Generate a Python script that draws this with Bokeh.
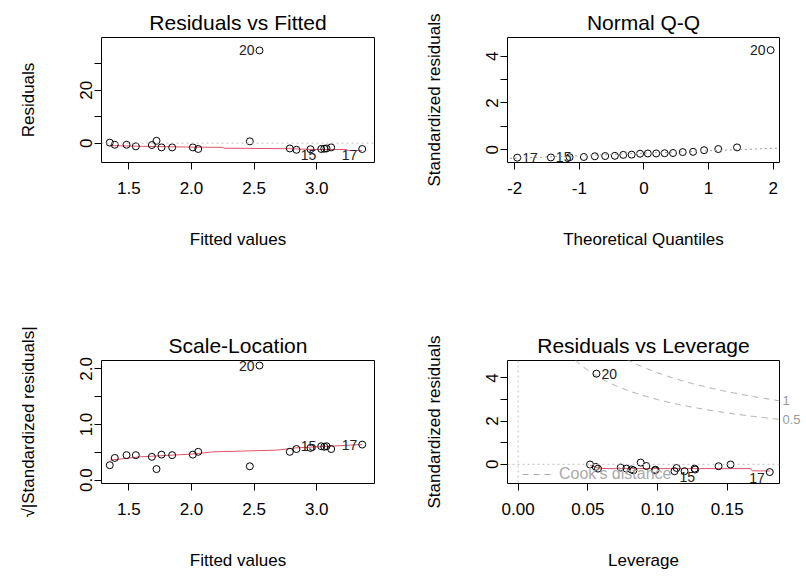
import numpy as np
from bokeh.plotting import figure
from bokeh.layouts import gridplot
from bokeh.models import (Range1d, FixedTicker, Span, Slope, Legend, LegendItem,
                          LinearAxis)
from bokeh.core.properties import value
from bokeh.embed import file_html
from bokeh.resources import INLINE

FONT = "Liberation Sans"
RED = "#DF536B"
GRAY = "#BEBEBE"
DASHGRAY = "#AAAAAA"

# ---------------- data ----------------
obs_id = ["", "", "", "", "", "", "", "", "", "", "", "20", "", "", "", "15", "", "", "", "17"]
fitted = [1.348, 1.388, 1.482, 1.556, 1.684, 1.721, 1.761, 1.846, 2.011, 2.054,
          2.466, 2.543, 2.785, 2.838, 2.950, 3.036, 3.060, 3.078, 3.115, 3.363]
residuals = [0.2, -0.6, -0.6, -1.2, -0.7, 0.9, -1.6, -1.6, -1.6, -2.2,
             0.7, 35.0, -2.0, -2.5, -2.3, -2.2, -2.1, -2.0, -1.6, -2.2]
sqrt_abs_std = [0.27, 0.40, 0.45, 0.45, 0.42, 0.20, 0.46, 0.45, 0.46, 0.51,
                0.25, 2.06, 0.51, 0.56, 0.58, 0.61, 0.60, 0.61, 0.56, 0.64]
resid_smooth_x = [1.35, 1.62, 2.02, 2.25, 2.26, 2.79, 2.97, 3.24, 3.25, 3.36]
resid_smooth_y = [-0.9, -1.2, -1.5, -1.6, -1.9, -2.1, -2.4, -2.4, -2.8, -2.8]
scale_smooth_x = [1.35, 1.59, 2.01, 2.18, 2.68, 2.83, 3.36]
scale_smooth_y = [0.36, 0.42, 0.47, 0.51, 0.54, 0.58, 0.64]

qq_id = ["17", "15", "", "", "", "", "", "", "", "", "", "", "", "", "", "", "", "", "", "20"]
theoretical_q = [-1.96, -1.44, -1.15, -0.93, -0.76, -0.60, -0.45, -0.32, -0.19, -0.06,
                 0.06, 0.19, 0.32, 0.45, 0.60, 0.76, 0.93, 1.15, 1.44, 1.96]
std_resid_sorted = [-0.34, -0.33, -0.32, -0.31, -0.28, -0.27, -0.26, -0.22, -0.21, -0.17,
                    -0.16, -0.16, -0.15, -0.14, -0.10, -0.09, -0.02, 0.03, 0.10, 4.26]
qq_line_intercept = -0.15
qq_line_slope = 0.105

lev_id = ["", "", "", "20", "", "", "", "", "", "", "", "", "15", "", "", "", "", "", "", "17"]
leverage = [0.0516, 0.0557, 0.0573, 0.0562, 0.0736, 0.0777, 0.0813, 0.0827, 0.0879, 0.0920,
            0.0982, 0.0985, 0.1122, 0.1137, 0.1194, 0.1266, 0.1270, 0.1438, 0.1524, 0.1805]
std_resid_lev = [-0.01, -0.12, -0.20, 4.20, -0.15, -0.20, -0.24, -0.28, 0.08, -0.08,
                 -0.28, -0.25, -0.32, -0.17, -0.32, -0.20, -0.245, -0.09, -0.01, -0.36]
lev_smooth_x = [0.0516, 0.0592, 0.066, 0.1667, 0.1679, 0.1805]
lev_smooth_y = [-0.06, -0.19, -0.20, -0.20, -0.30, -0.31]
cook_levels = [0.5, 1.0]
cook_labels = ["0.5", "1"]
n_params = 2


def make_fig(w, h, left, right, top, bottom, xr, yr, title, xlabel, ylabel,
             xticks, xlabels, yticks, ylabels):
    p = figure(width=w, height=h, x_range=Range1d(*xr), y_range=Range1d(*yr),
               output_backend="svg", toolbar_location=None,
               min_border_left=left, min_border_right=right,
               min_border_top=top, min_border_bottom=bottom, title=title)
    p.title.align = "center"
    p.title.text_font = FONT
    p.title.text_font_size = "21px"
    p.title.text_font_style = "normal"
    p.title.text_color = "black"
    p.title.standoff = 8
    p.grid.visible = False
    p.outline_line_color = "black"
    p.outline_line_width = 1
    p.outline_line_alpha = 1
    p.background_fill_color = "white"
    p.border_fill_color = "white"
    for ax in (p.xaxis[0], p.yaxis[0]):
        ax.axis_line_color = None
        ax.major_tick_in = 0
        ax.major_tick_out = 7
        ax.major_tick_line_color = "black"
        ax.minor_tick_line_color = None
        ax.major_label_text_font = FONT
        ax.major_label_text_font_size = "17px"
        ax.major_label_text_color = "black"
        ax.axis_label_text_font = FONT
        ax.axis_label_text_font_size = "17px"
        ax.axis_label_text_font_style = "normal"
        ax.axis_label_text_color = "black"
    p.xaxis[0].ticker = FixedTicker(ticks=xticks)
    p.xaxis[0].major_label_overrides = {t: l for t, l in zip(xticks, xlabels)}
    p.yaxis[0].ticker = FixedTicker(ticks=yticks)
    p.yaxis[0].major_label_overrides = {t: l for t, l in zip(yticks, ylabels)}
    p.xaxis[0].axis_label = xlabel
    p.yaxis[0].axis_label = ylabel
    p.xaxis[0].major_label_standoff = 12
    p.xaxis[0].axis_label_standoff = 33
    p.yaxis[0].major_label_orientation = "vertical"
    p.yaxis[0].major_label_standoff = 2
    p.yaxis[0].axis_label_standoff = 40
    return p


def points(p, xs, ys):
    p.scatter(xs, ys, marker="circle", size=7, fill_color=None,
              line_color="black", line_width=1)


def id_labels(p, xs, ys, ids, y_shift_neg=0):
    mid = (min(xs) + max(xs)) / 2
    for x, y, t in zip(xs, ys, ids):
        if not t:
            continue
        right = x < mid
        yo = y_shift_neg if y < 0 else 0
        p.text([x], [y], text=[t], x_offset=5 if right else -5, y_offset=yo,
               text_align="left" if right else "right", text_baseline="middle",
               text_font=value(FONT), text_font_size="14px", text_color="#222222")


W, H1, H2 = 403, 288, 289

# Panel 1: Residuals vs Fitted
p1 = make_fig(W, H1, 101, 29, 37, 126, (1.282, 3.461), (-7.3, 39.9),
              "Residuals vs Fitted", "Fitted values", "Residuals",
              [1.5, 2.0, 2.5, 3.0], ["1.5", "2.0", "2.5", "3.0"],
              [0, 10, 20, 30], ["0", "", "20", ""])
p1.add_layout(Span(location=0, dimension="width", line_color=GRAY,
                   line_dash="2 3", line_width=1))
p1.line(resid_smooth_x, resid_smooth_y, line_color=RED, line_width=1)
points(p1, fitted, residuals)
id_labels(p1, fitted, residuals, obs_id, y_shift_neg=6)

# Panel 2: Normal Q-Q
p2 = make_fig(W, H1, 104, 27, 37, 126, (-2.111, 2.097), (-0.546, 4.80),
              "Normal Q-Q", "Theoretical Quantiles", "Standardized residuals",
              [-2, -1, 0, 1, 2], ["-2", "-1", "0", "1", "2"],
              [0, 1, 2, 3, 4], ["0", "", "2", "", "4"])
p2.add_layout(Slope(gradient=qq_line_slope, y_intercept=qq_line_intercept,
                    line_color="#999999", line_dash="2 3", line_width=1))
points(p2, theoretical_q, std_resid_sorted)
id_labels(p2, theoretical_q, std_resid_sorted, qq_id)

# Panel 3: Scale-Location
p3 = make_fig(W, H2, 101, 29, 72, 94, (1.282, 3.461), (-0.059, 2.15),
              "Scale-Location", "Fitted values", "\u221a|Standardized residuals|",
              [1.5, 2.0, 2.5, 3.0], ["1.5", "2.0", "2.5", "3.0"],
              [0.0, 0.5, 1.0, 1.5, 2.0], ["0.0", "", "1.0", "", "2.0"])
p3.line(scale_smooth_x, scale_smooth_y, line_color=RED, line_width=1)
points(p3, fitted, sqrt_abs_std)
id_labels(p3, fitted, sqrt_abs_std, obs_id)

# Panel 4: Residuals vs Leverage
lev_range = (-0.0076, 0.1875)
p4 = make_fig(W, H2, 104, 27, 72, 94, lev_range, (-0.89, 4.81),
              "Residuals vs Leverage", "Leverage", "Standardized residuals",
              [0.0, 0.05, 0.10, 0.15], ["0.00", "0.05", "0.10", "0.15"],
              [0, 1, 2, 3, 4], ["0", "", "2", "", "4"])
p4.add_layout(Span(location=0, dimension="width", line_color=GRAY,
                   line_dash="2 3", line_width=1))
p4.add_layout(Span(location=0, dimension="height", line_color=GRAY,
                   line_dash="2 3", line_width=1))
hh = np.linspace(0.01, lev_range[1], 200)
cook_renderers = []
cook_ticks = []
for lvl in cook_levels:
    yy = np.sqrt(lvl * n_params * (1 - hh) / hh)
    r = p4.line(hh, yy, line_color=DASHGRAY, line_dash="6 5", line_width=1)
    cook_renderers.append(r)
    cook_ticks.append(float(np.sqrt(lvl * n_params * (1 - lev_range[1]) / lev_range[1])))
cook_axis = LinearAxis(ticker=FixedTicker(ticks=cook_ticks),
                       major_label_overrides={t: l for t, l in zip(cook_ticks, cook_labels)},
                       axis_line_color=None, major_tick_line_color=None,
                       minor_tick_line_color=None, major_tick_in=0, major_tick_out=0,
                       major_label_standoff=3, major_label_orientation="horizontal",
                       major_label_text_font=FONT, major_label_text_font_size="13px",
                       major_label_text_color="#999999")
p4.add_layout(cook_axis, "right")
p4.line(lev_smooth_x, lev_smooth_y, line_color=RED, line_width=1)
points(p4, leverage, std_resid_lev)
id_labels(p4, leverage, std_resid_lev, lev_id, y_shift_neg=6)
legend = Legend(items=[LegendItem(label="Cook's distance", renderers=[cook_renderers[0]])],
                location=(15, 0), padding=0, margin=0, glyph_width=30, glyph_height=14,
                label_height=14, label_standoff=7, border_line_color=None,
                background_fill_alpha=0, label_text_font=FONT,
                label_text_font_size="16px", label_text_color="#AAAAAA")
p4.add_layout(legend)

grid = gridplot([[p1, p2], [p3, p4]], toolbar_location=None)
open("out.html", "w").write(file_html(grid, INLINE))
